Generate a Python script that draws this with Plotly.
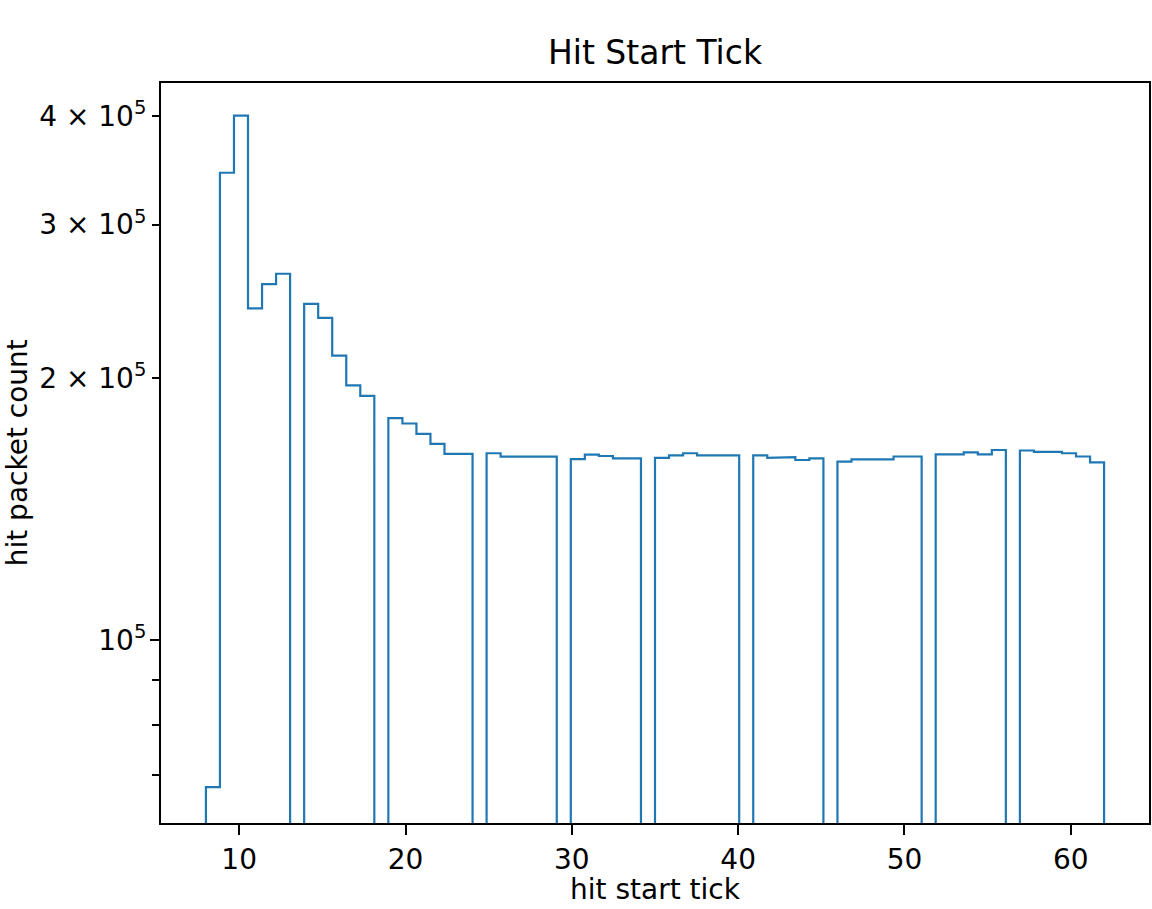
import numpy as np
import plotly.graph_objects as go

# hit start tick values (integers) and their packet counts
start_ticks = [8, 9, 10, 11, 12, 13, 14, 15, 16, 17, 18, 19, 20, 21, 22, 23, 24,
               25, 26, 27, 28, 29, 30, 31, 32, 33, 34, 35, 36, 37, 38, 39, 40,
               41, 42, 43, 44, 45, 46, 47, 48, 49, 50, 51, 52, 53, 54, 55, 56,
               57, 58, 59, 60, 61, 62]
packet_counts = [67800, 344000, 400000, 240400, 256300, 263400, 243300, 234400,
                 212100, 196100, 190700, 179800, 177300, 172500, 168000, 163600,
                 163600, 163900, 162400, 162400, 162400, 162400, 161400, 163300,
                 162700, 161700, 161700, 161900, 163000, 163900, 163000, 163000,
                 163000, 163000, 161900, 162200, 161000, 161700, 160300, 161300,
                 161300, 161300, 162500, 162500, 163400, 163400, 164300, 163400,
                 165300, 165100, 164500, 164500, 163900, 162500, 160000]
n_bins = 64

y_tick_vals = [1e5, 2e5, 3e5, 4e5]
y_tick_text = ["10<sup>5</sup>", "2 × 10<sup>5</sup>", "3 × 10<sup>5</sup>", "4 × 10<sup>5</sup>"]
y_minor_vals = [7e4, 8e4, 9e4]
x_tick_vals = [10, 20, 30, 40, 50, 60]

# histogram (step outline), like matplotlib histtype='step'
heights, edges = np.histogram(start_ticks, bins=n_bins,
                              range=(min(start_ticks), max(start_ticks)),
                              weights=packet_counts)
base = 1.0
h = np.where(heights > 0, heights, base)
xs = [edges[0]]
ys = [base]
for i in range(len(h)):
    xs += [edges[i], edges[i + 1]]
    ys += [h[i], h[i]]
xs.append(edges[-1])
ys.append(base)

FONT = "DejaVu Sans"
fig = go.Figure()
fig.add_trace(go.Scatter(x=xs, y=ys, mode="lines",
                         line=dict(color="#1f77b4", width=2.2),
                         showlegend=False, hoverinfo="skip"))

span = edges[-1] - edges[0]
xr = [edges[0] - 0.05 * span, edges[-1] + 0.05 * span]
yr = [4.7901, 5.6396]

fig.update_layout(
    width=1152, height=909,
    margin=dict(l=161, r=1, t=83, b=86),
    paper_bgcolor="white", plot_bgcolor="white",
    font=dict(family=FONT, size=28, color="black"),
    title=dict(text="Hit Start Tick", x=0.5, xref="paper", xanchor="center",
               y=1 - 52 / 909, yref="container", yanchor="middle",
               font=dict(family=FONT, size=33, color="black")),
    xaxis=dict(range=xr, tickvals=x_tick_vals, ticks="outside", ticklen=10,
               tickwidth=2, tickcolor="black", showgrid=False, zeroline=False,
               showline=True, linecolor="black", linewidth=2, mirror=True,
               tickfont=dict(family=FONT, size=28, color="black")),
    yaxis=dict(type="log", range=yr, tickvals=y_tick_vals, ticktext=y_tick_text,
               ticks="outside", ticklen=7, tickwidth=2, tickcolor="black",
               showgrid=False, zeroline=False, showline=True, linecolor="black",
               linewidth=2, mirror=True,
               tickfont=dict(family=FONT, size=28, color="black"),
               minor=dict(tickvals=y_minor_vals, ticks="outside", ticklen=7,
                          tickwidth=2, tickcolor="black", showgrid=False)),
    yaxis2=dict(type="log", range=yr, overlaying="y", side="left", anchor="x",
                tickvals=[1e5], ticks="outside", ticklen=10, tickwidth=2,
                tickcolor="black", showticklabels=False, showgrid=False,
                zeroline=False, showline=False),
    annotations=[
        dict(text="hit start tick", xref="paper", yref="paper", x=0.5,
             y=(822.7 - 889) / 739.4, xanchor="center", yanchor="middle",
             showarrow=False, font=dict(family=FONT, size=28, color="black")),
        dict(text="hit packet count", xref="paper", yref="paper",
             x=(17 - 161) / 990, y=0.5, xanchor="center", yanchor="middle",
             textangle=-90, showarrow=False,
             font=dict(family=FONT, size=28, color="black")),
    ],
)
# dummy invisible trace so yaxis2 renders
fig.add_trace(go.Scatter(x=[xr[0]], y=[1e5], yaxis="y2", mode="markers",
                         marker=dict(opacity=0), showlegend=False, hoverinfo="skip"))

fig.write_html("out.html")
